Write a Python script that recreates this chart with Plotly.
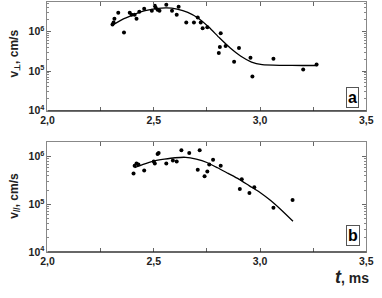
import plotly.graph_objects as go

# ---- Panel a data ----
a_pts_t = [2.306, 2.311, 2.315, 2.333, 2.360, 2.387, 2.396, 2.410, 2.419, 2.432, 2.455, 2.491,
           2.505, 2.509, 2.518, 2.527, 2.559, 2.586, 2.608, 2.617, 2.653, 2.689, 2.707, 2.721,
           2.730, 2.752, 2.815, 2.811, 2.806, 2.838, 2.878, 2.901, 2.955, 2.964, 3.063, 3.203, 3.266]
a_pts_v = [1.49e6, 1.67e6, 2.09e6, 2.94e6, 9.4e5, 2.94e6, 2.63e6, 2.63e6, 2.09e6, 3.12e6, 3.70e6, 3.30e6,
           4.39e6, 3.92e6, 3.49e6, 3.30e6, 4.65e6, 3.30e6, 2.63e6, 4.14e6, 1.67e6, 1.67e6, 2.22e6, 1.67e6,
           1.19e6, 1.26e6, 8.9e5, 4.03e5, 2.86e5, 4.27e5, 1.72e5, 3.80e5, 2.15e5, 7.3e4, 2.04e5, 1.09e5, 1.45e5]
a_fit_t = [2.31, 2.36, 2.41, 2.46, 2.51, 2.56, 2.61, 2.66, 2.71, 2.76, 2.81, 2.86, 2.91, 2.96, 3.01, 3.10, 3.20, 3.27]
a_fit_v = [1.48e6, 2.09e6, 2.69e6, 3.31e6, 3.72e6, 3.89e6, 3.63e6, 3.02e6, 2.14e6, 1.26e6, 6.76e5, 3.80e5,
           2.35e5, 1.68e5, 1.45e5, 1.39e5, 1.38e5, 1.38e5]

# ---- Panel b data ----
b_pts_t = [2.405, 2.410, 2.419, 2.428, 2.455, 2.500, 2.505, 2.518, 2.523, 2.559, 2.590, 2.608, 2.630,
           2.667, 2.707, 2.716, 2.739, 2.752, 2.761, 2.779, 2.815, 2.905, 2.914, 2.950, 2.973, 3.063, 3.153]
b_pts_v = [4.47e5, 6.46e5, 7.24e5, 6.92e5, 5.13e5, 7.94e5, 7.24e5, 1.15e6, 1.20e6, 7.24e5, 8.32e5, 7.94e5, 1.38e6,
           1.20e6, 5.37e5, 1.38e6, 3.89e5, 4.90e5, 6.92e5, 8.71e5, 6.46e5, 2.09e5, 3.39e5, 1.74e5, 2.29e5, 8.5e4, 1.23e5]
b_fit_t = [2.41, 2.45, 2.50, 2.55, 2.60, 2.65, 2.70, 2.75, 2.80, 2.85, 2.90, 2.95, 3.00, 3.05, 3.10, 3.155]
b_fit_v = [5.89e5, 6.92e5, 8.13e5, 8.91e5, 9.55e5, 9.77e5, 8.91e5, 7.59e5, 5.89e5, 4.47e5, 3.39e5, 2.45e5,
           1.78e5, 1.20e5, 7.6e4, 4.4e4]

x_tickvals = [2.0, 2.5, 3.0, 3.5]
x_ticktext = ["2,0", "2,5", "3,0", "3,5"]
y_tickvals = [1e4, 1e5, 1e6]
y_ticktext = ["10<sup>4</sup>", "10<sup>5</sup>", "10<sup>6</sup>"]

W, H = 382, 298
FONT = "Liberation Sans"

fig = go.Figure()
marker = dict(color="black", size=4)
line = dict(color="black", width=1.3, shape="spline", smoothing=0.6)

fig.add_trace(go.Scatter(x=a_pts_t, y=a_pts_v, mode="markers", marker=marker, xaxis="x", yaxis="y"))
fig.add_trace(go.Scatter(x=a_fit_t, y=a_fit_v, mode="lines", line=line, xaxis="x", yaxis="y"))
fig.add_trace(go.Scatter(x=b_pts_t, y=b_pts_v, mode="markers", marker=marker, xaxis="x2", yaxis="y2"))
fig.add_trace(go.Scatter(x=b_fit_t, y=b_fit_v, mode="lines", line=line, xaxis="x2", yaxis="y2"))

minor_y = [k * 10 ** e for e in (4, 5, 6) for k in range(2, 10)]
tickfont = dict(family=FONT, size=10.5, color="#222", weight="bold")

def xax(anchor, dom):
    return dict(domain=dom, range=[2.0, 3.5], anchor=anchor, tickmode="array",
                tickvals=x_tickvals, ticktext=x_ticktext, ticks="inside", ticklen=4,
                tickcolor="#666", showline=True, linecolor="#888", linewidth=1, mirror="allticks",
                showgrid=False, zeroline=False, tickfont=tickfont,
                minor=dict(tickvals=[2.25, 2.75, 3.25], ticks="inside", ticklen=4, tickcolor="#666"))

def yax(anchor, dom, rng):
    return dict(domain=dom, type="log", range=rng, anchor=anchor, tickmode="array",
                tickvals=y_tickvals, ticktext=y_ticktext, ticks="inside", ticklen=4,
                tickcolor="#666", showline=True, linecolor="#888", linewidth=1, mirror="allticks",
                showgrid=False, zeroline=False, tickfont=tickfont,
                minor=dict(tickvals=minor_y, ticks="inside", ticklen=2, tickcolor="#888"))

xd = [42 / W, 373 / W]
fig.update_layout(
    width=W, height=H, margin=dict(l=0, r=0, t=0, b=0),
    paper_bgcolor="white", plot_bgcolor="white", showlegend=False,
    xaxis=xax("y", xd),
    yaxis=yax("x", [(H - 113) / H, (H - 2) / H], [4, 6.74]),
    xaxis2=xax("y2", xd),
    yaxis2=yax("x2", [(H - 257) / H, (H - 145) / H], [4, 6.31]),
)

# darker bottom axis lines
for yb in [(H - 113) / H, (H - 257) / H]:
    fig.add_shape(type="line", xref="paper", yref="paper", x0=xd[0], x1=xd[1], y0=yb, y1=yb,
                  line=dict(color="#222", width=1))

ann_font = dict(family=FONT, size=12, color="#222", weight="bold")
fig.add_annotation(text="v<sub>⊥</sub>, cm/s", xref="paper", yref="paper", x=8 / W, y=(H - 55) / H,
                   xanchor="center", yanchor="middle",
                   textangle=-90, showarrow=False, font=ann_font)
fig.add_annotation(text="v<sub>//</sub>, cm/s", xref="paper", yref="paper", x=8 / W, y=(H - 200) / H,
                   xanchor="center", yanchor="middle",
                   textangle=-90, showarrow=False, font=ann_font)

box_font = dict(family=FONT, size=16, color="black", weight="bold")
fig.add_annotation(text="a", xref="paper", yref="paper", x=359 / W, y=(H - 100) / H, showarrow=False,
                   xanchor="center", yanchor="middle",
                   font=box_font, bordercolor="#555", borderwidth=1, borderpad=1, bgcolor="white")
fig.add_annotation(text="b", xref="paper", yref="paper", x=359 / W, y=(H - 240) / H, showarrow=False,
                   xanchor="center", yanchor="middle",
                   font=box_font, bordercolor="#555", borderwidth=1, borderpad=1, bgcolor="white")

fig.add_annotation(text="<i><span style='font-size:18px'>t</span></i>, ms", xref="paper", yref="paper",
                   x=358 / W, y=(H - 283) / H, showarrow=False, xanchor="center", yanchor="middle",
                   font=dict(family=FONT, size=14, color="#222", weight="bold"))

fig.write_html("out.html", config={"displayModeBar": False},
               post_script="document.body.style.margin='0';")
